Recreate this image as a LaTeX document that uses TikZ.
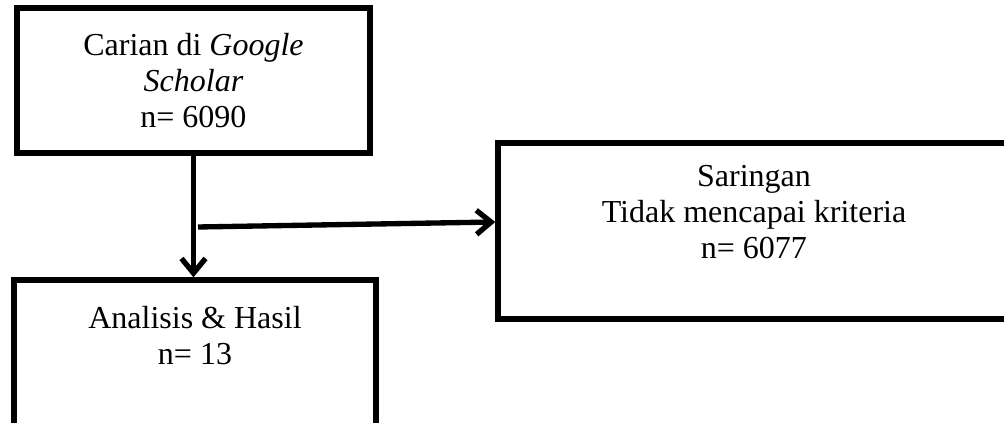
\documentclass[tikz,border=0pt]{standalone}
\usepackage{fontspec}
\setmainfont{Liberation Serif}
\usetikzlibrary{arrows.meta,positioning}

\begin{document}
\begin{tikzpicture}[x=0.75pt,y=-0.75pt,line width=4pt,
  kotak/.style={draw,rectangle,inner sep=0pt},
  teks/.style={align=center,inner sep=0pt,font=\fontsize{24}{27}\selectfont},
  panah/.style={-{Straight Barb[length=11pt,width=18pt]}}]
 \useasboundingbox (0,0) rectangle (1004,423);
 \clip (0,0) rectangle (1004,423);
 \node[kotak,teks,minimum width=264.75pt,minimum height=108.75pt] (cari) at (193.5,80.5) {Carian di \textit{Google}\\ \textit{Scholar}\\ n= 6090};
 \node[kotak,minimum width=384pt,minimum height=132pt] (saring) at (754,231) {};
 \node[kotak,minimum width=271.5pt,minimum height=150pt] (hasil) at (195,380) {};
 \node[teks,below=16.5pt of saring.north] (saring_t) {Saringan\\ Tidak mencapai kriteria\\ n= 6077};
 \node[teks,below=19.5pt of hasil.north] (hasil_t) {Analisis \& Hasil\\ n= 13};
 \coordinate (cabang) at (198,227);
 \path[panah]
  ([yshift=4.5pt]cari.south) edge (cari.south |- hasil.north)
  (cabang) edge ([yshift=6.75pt]saring.west);
\end{tikzpicture}
\end{document}
